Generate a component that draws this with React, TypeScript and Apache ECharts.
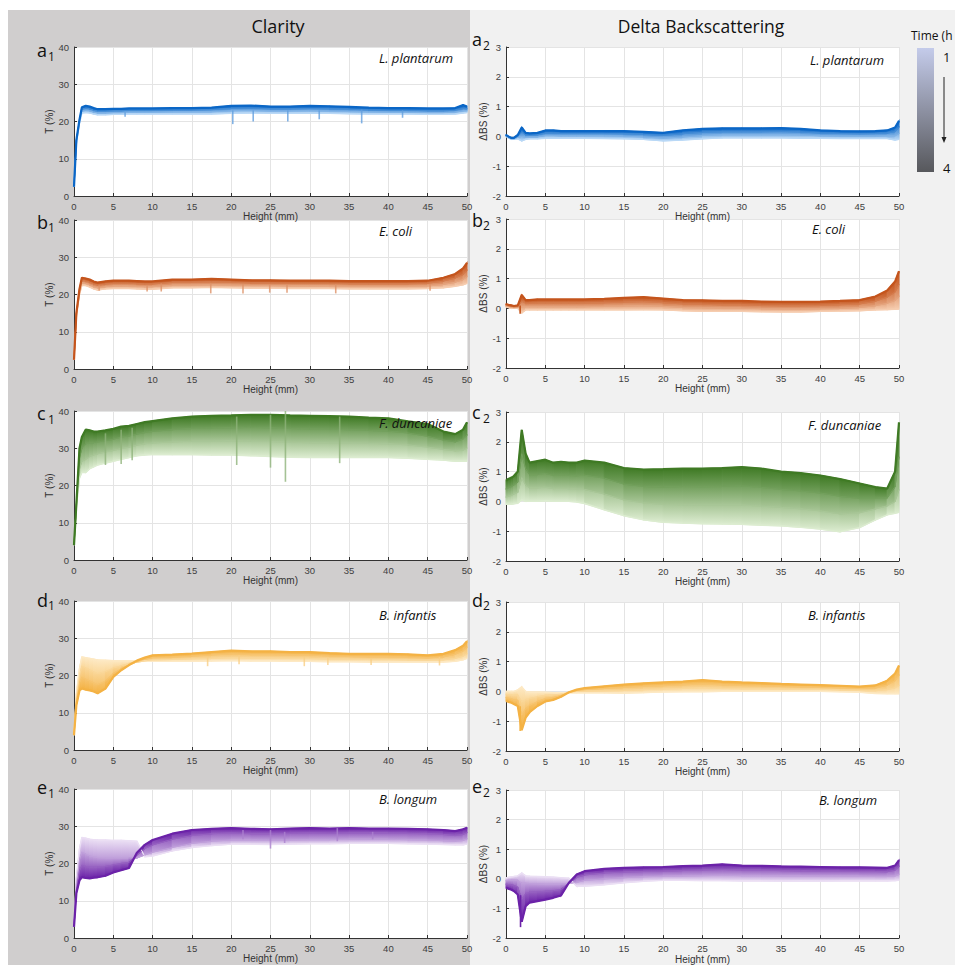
import React, { useEffect, useRef } from "react";
import * as echarts from "echarts";

// Height positions (mm) shared by all curves
const X = [0, 0.3, 0.7, 1, 1.5, 2, 2.5, 3, 4, 5, 6, 7, 8, 9, 10, 12.5, 15, 17.5, 20, 22.5, 25, 27.5, 30, 32.5, 35, 37.5, 40, 42.5, 45, 47, 48.5, 49.5, 50];
const TIME_TICKS = ["1", "4"];

// ---- a: L. plantarum ----
const A1_T1 = [2.5,14,19.5,22.3,22.4,22.3,22,21.8,21.8,21.9,21.9,22,22,22,22,22,22,22,22.2,22.3,22.2,22.2,22.3,22.2,22.1,22,22,22,21.9,21.9,22,22.3,22.4];
const A1_T2 = [2.5,14.5,20,22.8,23,22.9,22.5,22.3,22.3,22.4,22.4,22.5,22.5,22.5,22.5,22.6,22.6,22.6,22.9,23,22.8,22.8,22.9,22.8,22.7,22.6,22.5,22.5,22.4,22.4,22.5,22.9,22.9];
const A1_T3 = [2.5,14.8,20.2,23.3,23.6,23.4,23,22.8,22.8,22.9,22.9,23,23,23,23,23.1,23.1,23.2,23.5,23.6,23.4,23.4,23.5,23.4,23.3,23.1,23,23,22.9,22.9,23,23.5,23.4];
const A1_T4 = [2.5,15,20.5,23.8,24.2,24,23.6,23.3,23.3,23.4,23.4,23.5,23.5,23.5,23.5,23.6,23.6,23.7,24.2,24.3,24,24,24.2,24.1,23.9,23.7,23.6,23.6,23.5,23.5,23.6,24.4,24];
const A1_SPIKES = [[6.5,22.5,21.3],[20.2,23,19.3],[22.8,23,20],[27.2,23,20],[31.2,23,20.6],[36.6,23.2,19.5],[41.8,23,21]];

const A2_T1 = [0,-0.05,-0.1,-0.1,-0.08,-0.15,-0.1,-0.08,-0.08,-0.06,-0.06,-0.06,-0.06,-0.06,-0.06,-0.07,-0.08,-0.1,-0.15,-0.12,-0.08,-0.05,-0.05,-0.05,-0.05,-0.06,-0.06,-0.07,-0.07,-0.07,-0.07,-0.12,-0.1];
const A2_T2 = [0.01,-0.04,-0.09,-0.09,-0.04,0,-0.03,-0.02,-0.02,0.03,0.03,0.02,0.02,0.02,0.02,0.02,0.01,-0.02,-0.06,-0.02,0.03,0.06,0.06,0.06,0.06,0.05,0.02,0.01,0.01,0.01,0.02,0.02,0.1];
const A2_T3 = [0.03,-0.02,-0.07,-0.07,0.01,0.15,0.05,0.04,0.05,0.11,0.11,0.1,0.1,0.1,0.1,0.1,0.09,0.07,0.03,0.09,0.14,0.16,0.16,0.16,0.17,0.15,0.11,0.1,0.09,0.1,0.11,0.16,0.31];
const A2_T4 = [0.05,0,-0.05,-0.05,0.05,0.3,0.12,0.1,0.12,0.2,0.2,0.18,0.18,0.18,0.18,0.18,0.18,0.15,0.12,0.2,0.25,0.27,0.27,0.27,0.28,0.25,0.2,0.18,0.17,0.18,0.2,0.3,0.52];
const A2_SPIKES: number[][] = [];

// ---- b: E. coli ----
const B1_T1 = [2.5,14,20,22.5,22.4,22,21.5,21.2,21.5,21.6,21.6,21.6,21.5,21.4,21.4,21.8,21.8,21.9,21.8,21.7,21.7,21.6,21.6,21.6,21.5,21.5,21.5,21.5,21.6,21.8,22.2,22.6,23];
const B1_T2 = [2.5,14.3,20.5,23.1,23,22.6,22.1,21.8,22.1,22.3,22.3,22.3,22.2,22.1,22.1,22.5,22.5,22.6,22.5,22.4,22.4,22.3,22.3,22.3,22.2,22.2,22.2,22.2,22.3,22.7,23.3,24,24.8];
const B1_T3 = [2.5,14.7,21,23.8,23.6,23.3,22.8,22.5,22.8,23,23,23,22.9,22.8,22.8,23.3,23.3,23.4,23.3,23.1,23.1,23,23,23,22.9,22.9,22.9,22.9,23,23.6,24.4,25.4,26.5];
const B1_T4 = [2.5,15,21.5,24.5,24.3,24,23.5,23.2,23.5,23.7,23.7,23.7,23.6,23.5,23.5,24,24,24.2,24,23.8,23.8,23.7,23.7,23.7,23.6,23.6,23.6,23.6,23.7,24.5,25.5,27,28.5];
const B1_SPIKES = [[3.2,22.5,21],[9.3,22.5,20.8],[11.1,23,20.8],[17.4,23,20.3],[21.5,22.8,20.3],[24.9,22.8,20.5],[27.1,22.8,20.5],[33.3,22.8,20.3],[45.3,22.8,21]];

const B2_T1 = [0.05,0.03,0,0,0,-0.15,-0.05,-0.05,-0.05,-0.05,-0.05,-0.05,-0.05,-0.05,-0.05,-0.05,-0.05,-0.04,-0.05,-0.08,-0.1,-0.1,-0.1,-0.11,-0.12,-0.12,-0.1,-0.09,-0.08,-0.05,-0.04,-0.03,-0.02];
const B2_T2 = [0.08,0.06,0.03,0.02,0.03,0.05,0.06,0.06,0.06,0.06,0.06,0.06,0.06,0.06,0.06,0.07,0.08,0.09,0.07,0.03,0.02,0.01,0.01,-0.01,-0.02,-0.02,-0.01,0,0.03,0.09,0.17,0.27,0.4];
const B2_T3 = [0.12,0.09,0.07,0.05,0.06,0.25,0.17,0.17,0.18,0.18,0.18,0.18,0.18,0.18,0.18,0.19,0.21,0.23,0.19,0.15,0.14,0.12,0.12,0.1,0.09,0.09,0.1,0.12,0.15,0.24,0.38,0.55,0.8];
const B2_T4 = [0.15,0.12,0.1,0.08,0.1,0.45,0.28,0.28,0.3,0.3,0.3,0.3,0.3,0.3,0.3,0.32,0.35,0.38,0.33,0.28,0.27,0.25,0.25,0.23,0.22,0.22,0.23,0.25,0.28,0.4,0.6,0.9,1.25];
const B2_SPIKES = [[1.8,0.1,-0.18]];

// ---- c: F. duncaniae ----
const C1_T1 = [4,14,22,23.5,23.5,24.5,25,25.5,26,26.5,27,27.5,28,28.2,28.3,28.3,28.3,28.2,28.2,28,27.8,27.6,27.5,27.5,27.5,27.5,27.5,27.3,27,26.8,26.5,26.5,26.5];
const C1_T2 = [4,14.3,24.5,26.5,27,27.8,28.2,28.5,29,29.4,29.9,30.3,30.8,31.2,31.4,31.7,31.9,31.9,32,31.9,31.8,31.6,31.5,31.4,31.4,31.3,31.2,30.9,30.3,29.7,29.3,29.5,30];
const C1_T3 = [4,14.6,27.5,30,31.2,31.5,31.5,31.7,32,32.4,33,33.3,33.8,34.2,34.5,35,35.3,35.4,35.5,35.6,35.5,35.3,35.2,35.1,35,34.8,34.6,34.1,33.2,32.2,31.7,32.5,33.5];
const C1_T4 = [4,15,30,33,35,34.8,34.5,34.5,34.8,35.2,35.8,36,36.5,37,37.3,38,38.5,38.7,38.8,39,39,38.8,38.7,38.6,38.5,38.2,38,37.2,36.5,34.5,33.8,35,37];
const C1_SPIKES = [[4,34,25.5],[6,35,25.8],[7.4,35.5,26.8],[20.7,38.5,25.5],[25,39,24.8],[26.9,40,21],[33.8,38.5,26]];

const C2_T1 = [-0.1,-0.1,-0.1,-0.08,-0.06,0.05,0,0,0,0.02,0,0,0,-0.02,-0.07,-0.28,-0.48,-0.62,-0.7,-0.73,-0.75,-0.76,-0.77,-0.8,-0.82,-0.87,-0.93,-1.02,-0.88,-0.62,-0.45,-0.4,-0.37];
const C2_T2 = [0.15,0.17,0.2,0.25,0.3,0.8,0.55,0.45,0.45,0.48,0.43,0.44,0.43,0.42,0.4,0.25,0.05,-0.05,-0.1,-0.11,-0.12,-0.12,-0.12,-0.16,-0.2,-0.25,-0.32,-0.42,-0.38,-0.25,-0.15,0,0.4];
const C2_T3 = [0.42,0.46,0.5,0.55,0.65,1.6,1.1,0.9,0.9,0.94,0.87,0.88,0.87,0.86,0.88,0.78,0.58,0.5,0.48,0.5,0.49,0.5,0.52,0.47,0.4,0.35,0.28,0.17,0.1,0.1,0.12,0.5,1.5];
const C2_T4 = [0.7,0.75,0.8,0.85,1.0,2.4,1.6,1.3,1.35,1.4,1.3,1.33,1.3,1.3,1.37,1.3,1.12,1.07,1.08,1.1,1.1,1.12,1.15,1.1,1.0,0.95,0.87,0.75,0.6,0.48,0.43,1.0,2.65];
const C2_SPIKES: number[][] = [];

// ---- d: B. infantis ----
const D1_T1 = [4,15,22,25,24.8,24.6,24.4,24.2,24.1,24,24,24,24,23.9,23.8,23.8,23.8,23.9,24,23.9,23.9,23.8,23.8,23.7,23.7,23.6,23.6,23.6,23.6,23.6,23.8,24.2,24.6];
const D1_T2 = [4,14,20,22.5,22,21.5,21,20.5,21,22,22.6,23.2,23.6,23.9,24.2,24.3,24.5,24.6,24.8,24.7,24.7,24.6,24.6,24.4,24.4,24.3,24.3,24.2,24.1,24.2,24.6,25.2,25.8];
const D1_T3 = [4,13,18,19.5,19,18.5,18,17.5,18.5,20.5,21.8,22.8,23.7,24.3,24.8,24.9,25.2,25.5,25.8,25.6,25.6,25.5,25.5,25.2,25.1,25,25,24.9,24.7,25,25.7,26.6,27.5];
const D1_T4 = [4,12,16,16.5,16.2,16,15.7,15.2,16.5,19.6,21.4,22.8,24,24.8,25.4,25.6,25.9,26.3,26.7,26.5,26.5,26.3,26.3,26,25.8,25.8,25.8,25.7,25.4,25.8,26.8,28,29.2];
const D1_SPIKES = [[17,25,22.5],[21,25.5,23],[29.3,25,22.5],[32.3,25,22.8],[37.8,24.5,22.8],[46.5,25,22.7]];

const D2_T1 = [0,0,0,0,0.05,0.15,0,-0.02,-0.02,-0.03,-0.04,-0.05,-0.05,-0.05,-0.05,-0.05,-0.06,-0.04,-0.02,-0.01,-0.01,0,0,0,0,0,0,-0.01,-0.03,-0.07,-0.08,-0.08,-0.08];
const D2_T2 = [-0.1,-0.11,-0.12,-0.13,-0.12,-0.35,-0.28,-0.24,-0.18,-0.13,-0.12,-0.09,-0.04,0,0.01,0.02,0.03,0.06,0.08,0.1,0.12,0.1,0.09,0.09,0.08,0.07,0.07,0.05,0.03,0.02,0.06,0.12,0.2];
const D2_T3 = [-0.21,-0.23,-0.25,-0.28,-0.3,-0.8,-0.58,-0.47,-0.34,-0.24,-0.21,-0.14,-0.04,0.03,0.06,0.1,0.13,0.17,0.19,0.22,0.25,0.22,0.2,0.19,0.17,0.15,0.14,0.12,0.1,0.11,0.21,0.36,0.54];
const D2_T4 = [-0.32,-0.35,-0.38,-0.42,-0.49,-1.3,-0.88,-0.7,-0.49,-0.34,-0.29,-0.18,-0.03,0.06,0.11,0.17,0.23,0.27,0.3,0.33,0.38,0.33,0.3,0.28,0.25,0.23,0.21,0.19,0.16,0.2,0.36,0.6,0.87];
const D2_SPIKES = [[1.8,-0.5,-1.33]];

// ---- e: B. longum ----
const E1_T1 = [3,16,24,27,26.8,26.5,26.4,26.3,26.3,26.2,26.2,26.1,26,21.8,22,23.4,24.3,24.8,25.2,25.2,25.1,25.2,25.3,25.3,25.4,25.4,25.4,25.3,25.2,25.1,25,25,25.2];
const E1_T2 = [3,14.5,21,23,22.5,22,21.8,21.6,21.5,21.5,21.5,21.5,21.5,22.3,23,24.3,25.4,26,26.3,26.3,26.2,26.3,26.4,26.4,26.5,26.5,26.5,26.4,26.3,26.1,26,26.2,26.6];
const E1_T3 = [3,13,18,19.5,19.2,19,19,19,19.2,19.6,20,20.3,22.2,24,25,26.5,27.5,28,28.2,28,28,28.1,28.2,28.1,28.2,28.2,28.2,28.1,28,27.8,27.5,27.8,28.3];
const E1_T4 = [3,12,15.5,16.3,16.1,16,16.2,16.3,16.7,17.6,18.2,18.8,22.9,25,26.3,28,29,29.3,29.5,29.3,29.2,29.4,29.5,29.4,29.5,29.4,29.4,29.3,29.2,29,28.7,29.2,29.6];
const E1_SPIKES = [[21.5,29,26.5],[25,29,24],[26.8,28.5,25.5],[33.5,29.5,26],[38,28.5,26.5]];

const E2_T1 = [0.03,0.05,0.07,0.08,0.1,0.2,0.1,0.09,0.08,0.07,0.06,0.04,0.02,-0.25,-0.25,-0.2,-0.13,-0.08,-0.05,-0.05,-0.06,-0.06,-0.07,-0.07,-0.08,-0.07,-0.08,-0.07,-0.07,-0.07,-0.07,-0.06,-0.05];
const E2_T2 = [-0.06,-0.05,-0.04,-0.04,-0.05,-0.15,-0.15,-0.16,-0.17,-0.18,-0.18,-0.18,-0.15,-0.12,-0.05,0,0.04,0.07,0.09,0.1,0.11,0.12,0.11,0.11,0.1,0.1,0.09,0.09,0.09,0.08,0.08,0.1,0.15];
const E2_T3 = [-0.18,-0.19,-0.2,-0.22,-0.28,-0.7,-0.5,-0.45,-0.44,-0.42,-0.4,-0.36,-0.15,0.05,0.13,0.2,0.23,0.25,0.26,0.28,0.3,0.32,0.3,0.3,0.28,0.27,0.26,0.26,0.25,0.25,0.24,0.3,0.42];
const E2_T4 = [-0.3,-0.33,-0.37,-0.41,-0.53,-1.45,-0.92,-0.8,-0.75,-0.7,-0.64,-0.56,-0.13,0.15,0.26,0.34,0.37,0.39,0.4,0.43,0.45,0.49,0.45,0.44,0.42,0.41,0.4,0.39,0.39,0.38,0.37,0.45,0.63];
const E2_SPIKES = [[1.85,-0.55,-1.63]];

const SPECIES = ["L. plantarum", "E. coli", "F. duncaniae", "B. infantis", "B. longum"];
const ROW_LETTERS = ["a", "b", "c", "d", "e"];
const LIGHT_COLORS = ["#b9d8f6", "#f6cdb0", "#dcecd0", "#fde9c4", "#ebdff4"];
const DARK_COLORS = ["#0a66c6", "#c4541c", "#3f7a24", "#f4b244", "#6b22a8"];

const CURVES = [
  [[A1_T1, A1_T2, A1_T3, A1_T4], [A2_T1, A2_T2, A2_T3, A2_T4]],
  [[B1_T1, B1_T2, B1_T3, B1_T4], [B2_T1, B2_T2, B2_T3, B2_T4]],
  [[C1_T1, C1_T2, C1_T3, C1_T4], [C2_T1, C2_T2, C2_T3, C2_T4]],
  [[D1_T1, D1_T2, D1_T3, D1_T4], [D2_T1, D2_T2, D2_T3, D2_T4]],
  [[E1_T1, E1_T2, E1_T3, E1_T4], [E2_T1, E2_T2, E2_T3, E2_T4]],
];
const SPIKES = [
  [A1_SPIKES, A2_SPIKES], [B1_SPIKES, B2_SPIKES], [C1_SPIKES, C2_SPIKES], [D1_SPIKES, D2_SPIKES], [E1_SPIKES, E2_SPIKES],
];

// layout
const GRID_LEFT = [74, 506];
const GRID_TOP = [[47, 220, 411, 601, 789], [47, 219, 412, 602, 790]];
const GRID_W = 393;
const GRID_H = 149;
const TAG_X = [37, 472];
const TAG_Y = [[50, 221.5, 413, 599.5, 787], [39, 219.5, 412, 599.5, 786]];
const SPECIES_X = [[379, 379, 379, 379, 379], [810, 812, 808, 808, 819]];
const SPECIES_Y = [[58, 231, 423, 615, 799], [60, 229, 425, 615, 800]];

function mix(a: string, b: string, t: number) {
  const pa = [1, 3, 5].map((i) => parseInt(a.slice(i, i + 2), 16));
  const pb = [1, 3, 5].map((i) => parseInt(b.slice(i, i + 2), 16));
  const c = pa.map((v, i) => Math.round(v + (pb[i] - v) * t));
  return `rgb(${c[0]},${c[1]},${c[2]})`;
}

const TICK_FONT = "Liberation Sans, Arial, sans-serif";
const TEXT_FONT = "Open Sans, Noto Sans, sans-serif";

function buildOption() {
  const grids: any[] = [];
  const xAxes: any[] = [];
  const yAxes: any[] = [];
  const series: any[] = [];
  const graphics: any[] = [];

  graphics.push({ type: "rect", z: -10, shape: { x: 8, y: 10, width: 462, height: 955 }, style: { fill: "#d0cece" } });
  graphics.push({ type: "rect", z: -10, shape: { x: 470, y: 10, width: 485, height: 955 }, style: { fill: "#f1f1f1" } });
  graphics.push({ type: "text", style: { text: "Clarity", x: 278, y: 26, align: "center", verticalAlign: "middle", font: `18px ${TEXT_FONT}`, fill: "#111" } });
  graphics.push({ type: "text", style: { text: "Delta Backscattering", x: 701, y: 26, align: "center", verticalAlign: "middle", font: `17.5px ${TEXT_FONT}`, fill: "#111" } });

  // colour bar
  graphics.push({ type: "text", style: { text: "Time (h", x: 911, y: 35, align: "left", verticalAlign: "middle", font: `12px ${TEXT_FONT}`, fill: "#111" } });
  graphics.push({
    type: "rect", shape: { x: 917, y: 48, width: 17, height: 124 },
    style: { fill: new echarts.graphic.LinearGradient(0, 0, 0, 1, [{ offset: 0, color: "#c4cbea" }, { offset: 1, color: "#57585c" }]) },
  });
  graphics.push({ type: "text", style: { text: TIME_TICKS[0], x: 943, y: 57, align: "left", verticalAlign: "middle", font: `13px ${TEXT_FONT}`, fill: "#111" } });
  graphics.push({ type: "text", style: { text: TIME_TICKS[1], x: 943, y: 168, align: "left", verticalAlign: "middle", font: `13px ${TEXT_FONT}`, fill: "#111" } });
  graphics.push({ type: "line", shape: { x1: 944, y1: 77, x2: 944, y2: 138 }, style: { stroke: "#222", lineWidth: 1 } });
  graphics.push({ type: "polygon", shape: { points: [[941.5, 137], [946.5, 137], [944, 143]] }, style: { fill: "#222" } });

  let gi = 0;
  for (let row = 0; row < 5; row++) {
    for (let col = 0; col < 2; col++) {
      const isT = col === 0;
      const curves = CURVES[row][col];
      const spikes = SPIKES[row][col];
      const cols = [0, 1, 2, 3].map((k) => mix(LIGHT_COLORS[row], DARK_COLORS[row], k / 3));
      grids.push({ left: GRID_LEFT[col], top: GRID_TOP[col][row], width: GRID_W, height: GRID_H, show: true, backgroundColor: "#ffffff", borderWidth: 0 });
      xAxes.push({
        type: "value", gridIndex: gi, min: 0, max: 50, interval: 5,
        name: "Height (mm)", nameLocation: "middle", nameGap: 15,
        nameTextStyle: { fontSize: 10, color: "#333", fontFamily: TICK_FONT },
        axisLine: { show: true, onZero: false, lineStyle: { color: "#333", width: 1 } },
        axisTick: { show: true, inside: true, length: 3, lineStyle: { color: "#333" } },
        axisLabel: { fontSize: 9.5, color: "#404040", margin: 5, fontFamily: TICK_FONT },
        splitLine: { show: true, lineStyle: { color: "#e4e4e4", width: 1 } },
      });
      yAxes.push({
        type: "value", gridIndex: gi, min: isT ? 0 : -2, max: isT ? 40 : 3, interval: isT ? 10 : 1,
        name: isT ? "T (%)" : "ΔBS (%)", nameLocation: "middle", nameGap: isT ? 17 : 16, nameRotate: 90,
        nameTextStyle: { fontSize: 10, color: "#333", fontFamily: TICK_FONT },
        axisLine: { show: true, onZero: false, lineStyle: { color: "#333", width: 1 } },
        axisTick: { show: true, inside: true, length: 3, lineStyle: { color: "#333" } },
        axisLabel: { fontSize: 9.5, color: "#404040", margin: 5, fontFamily: TICK_FONT },
        splitLine: { show: true, lineStyle: { color: "#e4e4e4", width: 1 } },
      });

      const bandItems: number[][] = [];
      for (let k = 0; k < 3; k++) for (let j = 0; j < X.length - 1; j++) bandItems.push([j, k]);
      series.push({
        type: "custom", xAxisIndex: gi, yAxisIndex: gi, silent: true, z: 2,
        data: bandItems,
        renderItem: (_p: any, api: any) => {
          const j = api.value(0) as number;
          const k = api.value(1) as number;
          const lo = curves[k], hi = curves[k + 1];
          const p1 = api.coord([X[j], lo[j]]);
          const p2 = api.coord([X[j + 1], lo[j + 1]]);
          const p3 = api.coord([X[j + 1], hi[j + 1]]);
          const p4 = api.coord([X[j], hi[j]]);
          const hiAbove = p3[1] + p4[1] <= p1[1] + p2[1];
          const cTop = hiAbove ? cols[k + 1] : cols[k];
          const cBot = hiAbove ? cols[k] : cols[k + 1];
          const grad = new echarts.graphic.LinearGradient(0, 0, 0, 1, [{ offset: 0, color: cTop }, { offset: 1, color: cBot }]);
          return { type: "polygon", shape: { points: [p1, p2, p3, p4] }, style: { fill: grad, stroke: grad, lineWidth: 1.1 } };
        },
      });
      curves.forEach((c, k) => {
        series.push({
          type: "line", xAxisIndex: gi, yAxisIndex: gi, silent: true, showSymbol: false, z: 3 + k,
          data: X.map((x, j) => [x, c[j]]),
          lineStyle: { color: cols[k], width: k === 3 ? 2.2 : k === 0 ? 1.4 : 1 },
        });
      });
      const spikeColor = isT ? mix(LIGHT_COLORS[row], DARK_COLORS[row], 0.5) : DARK_COLORS[row];
      series.push({
        type: "custom", xAxisIndex: gi, yAxisIndex: gi, silent: true, z: 8,
        data: spikes,
        renderItem: (_p: any, api: any) => {
          const a = api.coord([api.value(0), api.value(1)]);
          const b = api.coord([api.value(0), api.value(2)]);
          return { type: "line", shape: { x1: a[0], y1: a[1], x2: b[0], y2: b[1] }, style: { stroke: spikeColor, lineWidth: 1.6, opacity: isT ? 0.8 : 1 } };
        },
      });

      // panel tag with subscript
      graphics.push({ type: "text", style: { text: ROW_LETTERS[row], x: TAG_X[col], y: TAG_Y[col][row], align: "left", verticalAlign: "middle", font: `18px ${TEXT_FONT}`, fill: "#111" } });
      graphics.push({ type: "text", style: { text: String(col + 1), x: TAG_X[col] + 11, y: TAG_Y[col][row] + 6, align: "left", verticalAlign: "middle", font: `12px ${TEXT_FONT}`, fill: "#111" } });
      graphics.push({ type: "text", z: 20, style: { text: SPECIES[row], x: SPECIES_X[col][row], y: SPECIES_Y[col][row], align: "left", verticalAlign: "middle", font: `italic 13px ${TEXT_FONT}`, fill: "#111" } });
      gi++;
    }
  }

  return {
    animation: false,
    backgroundColor: "#ffffff",
    grid: grids,
    xAxis: xAxes,
    yAxis: yAxes,
    series,
    graphic: { elements: graphics },
  };
}

export default function App() {
  const ref = useRef<HTMLDivElement>(null);
  useEffect(() => {
    if (!ref.current) return;
    const chart = echarts.init(ref.current, undefined, { renderer: "svg" });
    chart.setOption(buildOption() as any);
    return () => chart.dispose();
  }, []);
  return <div ref={ref} style={{ position: "absolute", left: 0, top: 0, width: 955, height: 965 }} />;
}
